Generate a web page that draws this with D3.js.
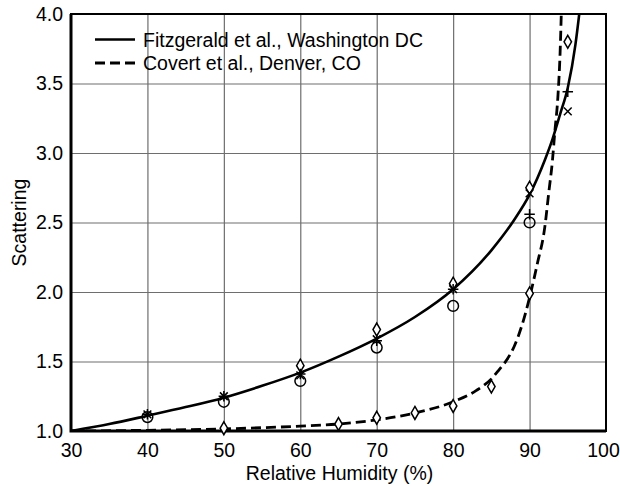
<!DOCTYPE html>
<html>
<head>
<meta charset="utf-8">
<script src="https://cdn.jsdelivr.net/npm/d3@7"></script>
<style>
  body { margin: 0; background: #fff; }
  text { font-family: "Liberation Sans", Arial, sans-serif; fill: #000; }
</style>
</head>
<body>
<div id="chart"></div>
<script>
// smooth fitted curves
var solidRH  = [30, 35, 40, 45, 50, 55, 60, 65, 70, 75, 80, 85, 88, 90, 92, 93, 94, 95, 96, 96.5]
var solidVal = [1.00, 1.05, 1.11, 1.172, 1.24, 1.325, 1.42, 1.535, 1.665, 1.82, 2.02, 2.3, 2.52, 2.7, 2.95, 3.10, 3.28, 3.47, 3.78, 4.0]

var dashRH  = [30, 40, 50, 60, 65, 70, 75, 80, 83, 85, 86, 87, 88, 89, 90, 91, 92, 92.5, 93, 93.3, 93.7, 94.0, 94.15]
var dashVal = [1.00, 1.005, 1.015, 1.035, 1.05, 1.08, 1.13, 1.21, 1.29, 1.375, 1.44, 1.51, 1.61, 1.76, 1.96, 2.2, 2.47, 2.71, 2.95, 3.15, 3.4, 3.73, 4.0]

// measured points, Fitzgerald et al.
var fitzRH      = [40, 50, 60, 70, 80, 90, 95]
var fitzCircle  = [1.10, 1.21, 1.36, 1.60, 1.90, 2.50, null]
var fitzDiamond = [null, null, 1.47, 1.73, 2.06, 2.75, 3.80]
var fitzTimes   = [1.12, 1.25, 1.40, 1.66, 2.02, 2.71, 3.30]
var fitzPlus    = [1.12, 1.25, 1.41, 1.65, 2.02, 2.56, 3.44]

// measured points, Covert et al.
var covertRH      = [50, 65, 70, 75, 80, 85, 90]
var covertDiamond = [1.02, 1.05, 1.095, 1.13, 1.18, 1.32, 1.99]

var xTicks = [30, 40, 50, 60, 70, 80, 90, 100]
var yTicks = [1.0, 1.5, 2.0, 2.5, 3.0, 3.5, 4.0]
var legendLabels = ["Fitzgerald et al., Washington DC", "Covert et al., Denver, CO"]

var width = 620,
    height = 486,
    pLeft = 71, pRight = 606, pTop = 14, pBottom = 431

var x = d3.scaleLinear().domain([30, 100]).range([pLeft, pRight])
var y = d3.scaleLinear().domain([1, 4]).range([pBottom, pTop])

var svg = d3.select("#chart").append("svg")
    .attr("width", width)
    .attr("height", height)

svg.append("defs").append("clipPath").attr("id", "plotclip")
  .append("rect")
    .attr("x", pLeft).attr("y", pTop)
    .attr("width", pRight - pLeft).attr("height", pBottom - pTop)

// grid
svg.append("g")
  .attr("transform", "translate(0," + pBottom + ")")
  .call(d3.axisBottom(x).tickValues(xTicks.slice(1, -1)).tickSize(-(pBottom - pTop)).tickFormat(""))
  .call(function(g) { g.select(".domain").remove() })
  .selectAll("line").attr("stroke", "#6e6e6e").attr("stroke-width", 1.2)

svg.append("g")
  .attr("transform", "translate(" + pLeft + ",0)")
  .call(d3.axisLeft(y).tickValues(yTicks.slice(1, -1)).tickSize(-(pRight - pLeft)).tickFormat(""))
  .call(function(g) { g.select(".domain").remove() })
  .selectAll("line").attr("stroke", "#6e6e6e").attr("stroke-width", 1.2)

// tick labels
svg.append("g")
  .attr("transform", "translate(0," + pBottom + ")")
  .call(d3.axisBottom(x).tickValues(xTicks).tickSize(0).tickPadding(12).tickFormat(d3.format("d")))
  .call(function(g) { g.select(".domain").remove() })
  .selectAll("text")
    .style("font-size", "19.5px").attr("fill", "#000")
    .attr("dx", function(d) { return d == 100 ? -3 : 0 })

svg.append("g")
  .attr("transform", "translate(" + pLeft + ",0)")
  .call(d3.axisLeft(y).tickValues(yTicks).tickSize(0).tickPadding(8).tickFormat(d3.format(".1f")))
  .call(function(g) { g.select(".domain").remove() })
  .selectAll("text").style("font-size", "19.5px").attr("fill", "#000")

svg.selectAll(".tick text").attr("font-family", "Liberation Sans, Arial, sans-serif")

// axis titles
svg.append("text")
  .attr("x", (pLeft + pRight) / 2 + 1)
  .attr("y", 480)
  .attr("text-anchor", "middle")
  .style("font-size", "19.5px")
  .text("Relative Humidity (%)")

svg.append("text")
  .attr("transform", "translate(26," + (pTop + pBottom) / 2 + ") rotate(-90)")
  .attr("text-anchor", "middle")
  .style("font-size", "19.5px")
  .text("Scattering")

// curves
var line = d3.line()
  .x(function(d) { return x(d[0]) })
  .y(function(d) { return y(d[1]) })
  .curve(d3.curveMonotoneX)

var plot = svg.append("g").attr("clip-path", "url(#plotclip)")

plot.append("path")
  .attr("d", line(d3.zip(dashRH, dashVal)))
  .attr("fill", "none")
  .attr("stroke", "#000")
  .attr("stroke-width", 2.8)
  .attr("stroke-dasharray", "10,5")

plot.append("path")
  .attr("d", line(d3.zip(solidRH, solidVal)))
  .attr("fill", "none")
  .attr("stroke", "#000")
  .attr("stroke-width", 2.6)

// frame
svg.append("rect")
  .attr("x", pLeft).attr("y", pTop)
  .attr("width", pRight - pLeft).attr("height", pBottom - pTop)
  .attr("fill", "none").attr("stroke", "#000").attr("stroke-width", 2)
svg.append("path")
  .attr("d", "M" + pLeft + "," + pTop + "V" + pBottom + "H" + pRight)
  .attr("fill", "none").attr("stroke", "#000").attr("stroke-width", 3)

// marker shapes
var symTimes = {
  draw: function(ctx, size) {
    var r = Math.sqrt(size) / 2
    ctx.moveTo(-r, -r); ctx.lineTo(r, r)
    ctx.moveTo(r, -r); ctx.lineTo(-r, r)
  }
}
var symPlus = {
  draw: function(ctx, size) {
    var r = Math.sqrt(size) / 2
    ctx.moveTo(-r, 0); ctx.lineTo(r, 0)
    ctx.moveTo(0, -r); ctx.lineTo(0, r)
  }
}

function drawMarkers(xs, ys, type, size, fill) {
  var pts = d3.zip(xs, ys).filter(function(d) { return d[1] != null })
  svg.append("g").selectAll("path")
    .data(pts).enter()
    .append("path")
      .attr("transform", function(d) { return "translate(" + x(d[0]) + "," + y(d[1]) + ")" })
      .attr("d", d3.symbol().type(type).size(size))
      .attr("fill", fill)
      .attr("stroke", "#000")
      .attr("stroke-width", 1.5)
}

drawMarkers(fitzRH, fitzCircle, d3.symbolCircle, 90, "none")
drawMarkers(fitzRH, fitzDiamond, d3.symbolDiamond, 48, "#fff")
drawMarkers(covertRH, covertDiamond, d3.symbolDiamond, 48, "#fff")
drawMarkers(fitzRH, fitzTimes, symTimes, 60, "none")
drawMarkers(fitzRH, fitzPlus, symPlus, 110, "none")

// legend
var legend = svg.append("g")
legend.selectAll("line")
  .data(legendLabels).enter()
  .append("line")
    .attr("x1", 95).attr("x2", 135)
    .attr("y1", function(d, i) { return 39.5 + i * 23.5 })
    .attr("y2", function(d, i) { return 39.5 + i * 23.5 })
    .attr("stroke", "#000")
    .attr("stroke-width", function(d, i) { return i ? 2.8 : 2.6 })
    .attr("stroke-dasharray", function(d, i) { return i ? "10,5" : null })

legend.selectAll("text")
  .data(legendLabels).enter()
  .append("text")
    .attr("x", 143)
    .attr("y", function(d, i) { return 46.5 + i * 23.5 })
    .style("font-size", "19.5px")
    .text(function(d) { return d })
</script>
</body>
</html>
